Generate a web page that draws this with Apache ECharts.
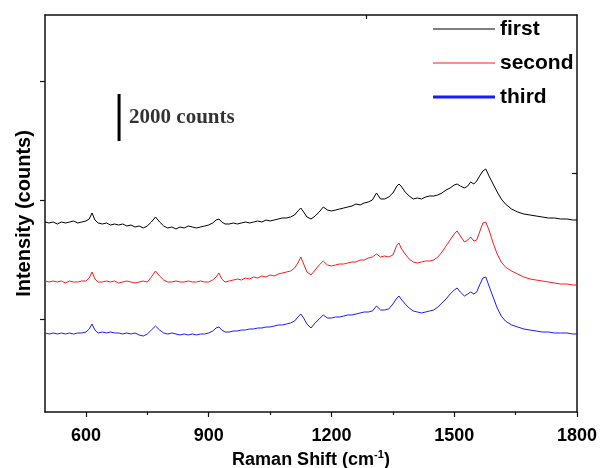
<!DOCTYPE html>
<html>
<head>
<meta charset="utf-8">
<script src="https://cdn.jsdelivr.net/npm/echarts@6/dist/echarts.min.js"></script>
<style>
html,body{margin:0;padding:0;background:#fff;}
#chart{width:600px;height:468px;}
</style>
</head>
<body>
<div id="chart"></div>
<script>
// Raman shift (cm-1)
const ramanShift = [
  500,510,520,530,540,550,560,570,580,590,600,
  608,615,622,
  630,640,650,660,670,680,690,700,710,720,730,740,750,760,770,780,790,800,810,820,830,840,850,860,870,880,890,900,910,
  918,925,932,
  940,950,960,970,980,990,1000,1010,1020,1030,1040,1050,1060,1070,1080,1090,1100,1110,
  1118,1125,1132,
  1140,1150,1160,1170,1180,1190,1200,1210,1220,1230,1240,1250,1260,1270,1280,1290,1300,1310,1320,1330,1340,1350,1360,
  1365,
  1370,1380,1390,1400,1410,1420,1430,1440,1450,1460,1470,1480,1490,1500,
  1507,1515,1525,1533,1540,1548,1555,1562,1570,1577,1585,1595,1605,1615,1625,
  1640,1655,1670,1685,1700,1715,1730,1745,1760,1775,1790,1800
];
// Intensities (counts, offset stacked)
const first = [
  8075,8033,8075,7990,8075,8033,8075,8118,8033,8075,8118,
  8203,8458,8160,
  8033,7990,8033,7948,7990,7948,7990,7905,7948,7863,7905,7820,7905,8075,8288,8075,7905,7820,7863,7778,7863,7820,7905,7863,7820,7863,7905,7948,8033,
  8160,8203,8075,
  7990,7990,8033,7990,8033,8075,8033,8075,8118,8075,8160,8118,8160,8203,8245,8245,8288,8373,
  8543,8670,8500,
  8288,8203,8330,8500,8713,8585,8543,8585,8628,8670,8713,8755,8840,8798,8883,8925,9010,9308,9053,9053,9138,9308,9605,
  9690,
  9605,9350,9180,9053,9095,9053,9138,9180,9180,9223,9308,9435,9520,9648,
  9690,9605,9520,9605,9775,9690,9818,10030,10243,10328,10030,9690,9350,9053,8840,
  8628,8500,8415,8373,8330,8288,8245,8245,8203,8203,8160,8160
];
const second = [
  5568,5525,5568,5525,5568,5483,5568,5525,5525,5568,5568,
  5695,5950,5653,
  5525,5525,5568,5525,5568,5483,5525,5568,5525,5483,5525,5568,5525,5738,5993,5780,5610,5525,5525,5568,5525,5525,5568,5525,5525,5568,5525,5525,5610,
  5738,5908,5653,
  5525,5568,5610,5653,5610,5695,5653,5738,5695,5780,5738,5823,5780,5865,5908,5950,5993,6120,
  6333,6588,6290,
  5950,5823,6035,6248,6418,6248,6205,6248,6290,6290,6333,6375,6375,6460,6460,6545,6588,6715,6588,6630,6588,6673,7098,
  7183,
  6970,6715,6503,6375,6333,6375,6418,6418,6460,6588,6800,7055,7310,7565,
  7693,7480,7225,7310,7438,7268,7310,7650,8033,8075,7735,7183,6715,6375,6163,
  5993,5865,5738,5653,5610,5568,5525,5483,5440,5440,5398,5398
];
const third = [
  3358,3315,3358,3315,3358,3315,3358,3315,3358,3358,3400,
  3528,3740,3485,
  3358,3400,3358,3400,3358,3358,3315,3358,3315,3358,3273,3230,3315,3485,3655,3485,3358,3315,3358,3315,3273,3315,3273,3315,3273,3315,3315,3358,3443,
  3570,3613,3485,
  3400,3400,3443,3443,3485,3485,3528,3528,3570,3570,3613,3613,3655,3698,3698,3740,3783,3868,
  4038,4165,3995,
  3740,3570,3783,3953,4123,3995,3995,4038,4038,4080,4123,4123,4165,4208,4250,4250,4293,4505,4335,4335,4378,4590,4845,
  4930,
  4803,4590,4420,4293,4250,4208,4250,4293,4335,4463,4633,4803,5015,5185,
  5270,5100,4930,5015,5100,5015,5100,5398,5695,5738,5355,4888,4420,4080,3868,
  3698,3613,3528,3485,3443,3400,3400,3358,3358,3358,3315,3315
];
const seriesNames = ['first','second','third'];
const xTickLabels = [600, 900, 1200, 1500, 1800];
const xMinorTicks = [750, 1050, 1350, 1650];
const xTopTicks = [1285];
const yLeftTicks = [3953, 8980, 14068];
const yRightTicks = [10158];
const scaleBarShift = 681;
const scaleBarCounts = [11515, 13515];
const scaleBarText = '2000 counts';

const chart = echarts.init(document.getElementById('chart'));
const axisColor = '#111';
const zip = (ys) => ramanShift.map((x, i) => [x, ys[i]]);
const lineSeries = (name, ys, color) => ({
  name, type: 'line', data: zip(ys), symbol: 'none', silent: true,
  lineStyle: { color, width: 1 }, itemStyle: { color }
});
const thinIcon = 'path://M0,0H62V0.01H0Z M0,4.4H62V5.6H0Z M0,9.99H62V10H0Z';
const thickIcon = 'path://M0,0H62V0.01H0Z M0,3.6H62V6.4H0Z M0,9.99H62V10H0Z';

chart.setOption({
  animation: false,
  backgroundColor: '#fff',
  grid: { left: 45, right: 23, top: 15, bottom: 56, containLabel: false, outerBoundsMode: 'none' },
  legend: {
    orient: 'vertical', left: 433, top: 17, padding: 0,
    itemWidth: 62, itemHeight: 10, itemGap: 10,
    data: [
      { name: seriesNames[0], icon: thinIcon },
      { name: seriesNames[1], icon: thinIcon },
      { name: seriesNames[2], icon: thickIcon }
    ],
    textStyle: { fontFamily: 'Liberation Sans, Arial, sans-serif', fontWeight: 'bold', fontSize: 21, color: '#000', lineHeight: 24 }
  },
  xAxis: [
    {
      type: 'value', min: 500, max: 1800, position: 'bottom',
      axisLine: { show: true, onZero: false, lineStyle: { color: axisColor, width: 1.5 } },
      axisTick: { show: true, customValues: xTickLabels, length: 5, lineStyle: { color: axisColor, width: 1.2 } },
      axisLabel: { customValues: xTickLabels, margin: 15, formatter: (v) => String(v), fontFamily: 'Liberation Sans, Arial, sans-serif', fontWeight: 'bold', fontSize: 18, color: '#000' },
      splitLine: { show: false },
      name: 'Raman Shift (cm{sup|-1})', nameLocation: 'middle', nameGap: 37,
      nameTextStyle: {
        fontFamily: 'Liberation Sans, Arial, sans-serif', fontWeight: 'bold', fontSize: 18, color: '#000',
        rich: { sup: { fontFamily: 'Liberation Sans, Arial, sans-serif', fontWeight: 'bold', fontSize: 11, color: '#000', verticalAlign: 'top', padding: [0, 0, 10, 0] } }
      }
    },
    {
      type: 'value', min: 500, max: 1800, position: 'bottom',
      axisLine: { show: false, onZero: false },
      axisTick: { show: true, customValues: xMinorTicks, length: 3, lineStyle: { color: axisColor, width: 1.2 } },
      axisLabel: { show: false }, splitLine: { show: false }
    },
    {
      type: 'value', min: 500, max: 1800, position: 'top',
      axisLine: { show: true, onZero: false, lineStyle: { color: axisColor, width: 1.5 } },
      axisTick: { show: true, inside: true, customValues: xTopTicks, length: 4, lineStyle: { color: axisColor, width: 1.2 } },
      axisLabel: { show: false }, splitLine: { show: false }
    }
  ],
  yAxis: [
    {
      type: 'value', min: 0, max: 16873, position: 'left',
      axisLine: { show: true, onZero: false, lineStyle: { color: axisColor, width: 1.5 } },
      axisTick: { show: true, customValues: yLeftTicks, length: 5, lineStyle: { color: axisColor, width: 1.2 } },
      axisLabel: { show: false }, splitLine: { show: false },
      name: 'Intensity (counts)', nameLocation: 'middle', nameGap: 11,
      nameTextStyle: { fontFamily: 'Liberation Sans, Arial, sans-serif', fontWeight: 'bold', fontSize: 20, color: '#000' }
    },
    {
      type: 'value', min: 0, max: 16873, position: 'right',
      axisLine: { show: true, onZero: false, lineStyle: { color: axisColor, width: 1.5 } },
      axisTick: { show: true, inside: true, customValues: yRightTicks, length: 5, lineStyle: { color: axisColor, width: 1.2 } },
      axisLabel: { show: false }, splitLine: { show: false }
    }
  ],
  series: [
    lineSeries(seriesNames[0], first, '#000000'),
    lineSeries(seriesNames[1], second, '#ff1a1a'),
    lineSeries(seriesNames[2], third, '#1a1aff'),
    {
      name: 'scalebar', type: 'line', symbol: 'none', silent: true,
      data: scaleBarCounts.map(c => [scaleBarShift, c]),
      lineStyle: { color: '#000', width: 3 }
    },
    {
      name: 'scalebarLabel', type: 'scatter', symbolSize: 0, silent: true,
      data: [[scaleBarShift, (scaleBarCounts[0] + scaleBarCounts[1]) / 2]],
      label: {
        show: true, position: 'right', distance: 10, formatter: scaleBarText,
        fontFamily: 'Liberation Serif, Times New Roman, serif', fontWeight: 'bold', fontSize: 21, color: '#000'
      }
    }
  ]
});
</script>
</body>
</html>
